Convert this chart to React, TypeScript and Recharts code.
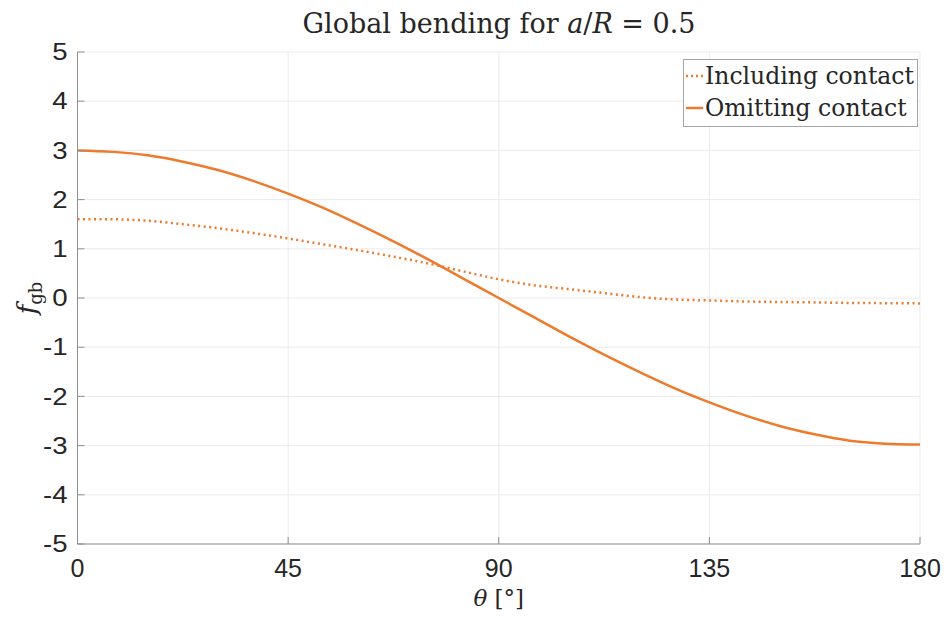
import React from 'react';
import { LineChart, Line, XAxis, YAxis, CartesianGrid } from 'recharts';

// values, every 7.5 degrees
const thetaDeg = [
    0, 7.5, 15, 22.5, 30, 37.5, 45, 52.5, 60, 67.5, 75, 82.5, 90,
    97.5, 105, 112.5, 120, 127.5, 135, 142.5, 150, 157.5, 165, 172.5, 180,
];
const includingContact = [
    1.6, 1.6, 1.57, 1.5, 1.42, 1.32, 1.21, 1.09, 0.97, 0.84, 0.7, 0.54, 0.38,
    0.26, 0.18, 0.1, 0.02, -0.03, -0.05, -0.07, -0.08, -0.09, -0.1, -0.105, -0.11,
];
const omittingContact = [
    3.0, 2.97, 2.9, 2.77, 2.6, 2.38, 2.12, 1.83, 1.5, 1.15, 0.78, 0.39, 0.0,
    -0.39, -0.78, -1.15, -1.5, -1.83, -2.12, -2.38, -2.6, -2.77, -2.9, -2.96, -2.98,
];
const xTicks = [0, 45, 90, 135, 180];
const yTicks = [-5, -4, -3, -2, -1, 0, 1, 2, 3, 4, 5];

const ORANGE = '#EE7A2C';
const TICK_FONT = '"Liberation Sans", Arial, sans-serif';
const SERIF = '"DejaVu Serif", serif';
const Y_MARGIN = 10;
const X_MARGIN = 7;

const chartData = thetaDeg.map((theta, i) => ({
    theta,
    including: includingContact[i],
    omitting: omittingContact[i],
}));

const YTick = (props: any) => {
    const { x, y, payload } = props;
    return (
        <g>
            <text
                transform={`translate(${x},${y}) scale(1.2,1)`}
                dy="0.36em"
                textAnchor="end"
                fontSize={23}
                fontFamily={TICK_FONT}
                fill="#262626"
            >
                {payload.value}
            </text>
            <line x1={x + Y_MARGIN} x2={x + Y_MARGIN + 7} y1={y} y2={y} stroke="#8f8f8f" />
        </g>
    );
};

const XTick = (props: any) => {
    const { x, y, payload } = props;
    return (
        <g>
            <text x={x} y={y + 26} textAnchor="middle" fontSize={25} fontFamily={TICK_FONT} fill="#262626">
                {payload.value}
            </text>
            <line x1={x} x2={x} y1={y - X_MARGIN} y2={y - X_MARGIN - 7} stroke="#8f8f8f" />
        </g>
    );
};

const XLabel = (props: any) => {
    const { viewBox } = props;
    const cx = viewBox.x + viewBox.width / 2;
    return (
        <text x={cx} y={viewBox.y + 62} textAnchor="middle" fontSize={23} fontFamily={SERIF} fill="#262626">
            <tspan fontStyle="italic">θ</tspan>
            <tspan> [°]</tspan>
        </text>
    );
};

const YLabel = (props: any) => {
    const { viewBox } = props;
    const cy = viewBox.y + viewBox.height / 2;
    const cx = 36;
    return (
        <text
            x={cx}
            y={cy}
            textAnchor="middle"
            fontSize={26}
            fontFamily={SERIF}
            fill="#262626"
            transform={`rotate(-90 ${cx} ${cy})`}
        >
            <tspan fontStyle="italic">f</tspan>
            <tspan fontSize={18} dy={6}>gb</tspan>
        </text>
    );
};

const LegendBox = () => (
    <div
        style={{
            position: 'absolute',
            left: 683,
            top: 59,
            width: 235,
            height: 68,
            border: '1px solid #a6a6a6',
            background: '#fff',
            fontFamily: SERIF,
            fontSize: 23.5,
            color: '#262626',
            boxSizing: 'border-box',
            whiteSpace: 'nowrap',
        }}
    >
        <div style={{ display: 'flex', alignItems: 'center', height: 32, marginTop: 0 }}>
            <svg width={19} height={10} style={{ marginLeft: 1 }}>
                <line x1={1} x2={18} y1={5} y2={5} stroke={ORANGE} strokeWidth={2.5} strokeDasharray="2 3" />
            </svg>
            <span style={{ marginLeft: 1 }}>Including contact</span>
        </div>
        <div style={{ display: 'flex', alignItems: 'center', height: 32 }}>
            <svg width={19} height={10} style={{ marginLeft: 1 }}>
                <line x1={1} x2={18} y1={5} y2={5} stroke={ORANGE} strokeWidth={2.5} />
            </svg>
            <span style={{ marginLeft: 1 }}>Omitting contact</span>
        </div>
    </div>
);

export default function App() {
    return (
        <div style={{ position: 'absolute', left: 0, top: 0, width: 950, height: 621, background: '#fff' }}>
            <div
                style={{
                    position: 'absolute',
                    left: 78,
                    width: 842,
                    top: 8,
                    textAlign: 'center',
                    fontFamily: SERIF,
                    fontSize: 27,
                    color: '#262626',
                    whiteSpace: 'nowrap',
                }}
            >
                Global bending for <i>a</i>/<i>R</i> = 0.5
            </div>
            <LineChart
                width={950}
                height={621}
                data={chartData}
                margin={{ top: 52, right: 30, left: 0, bottom: 0 }}
            >
                <CartesianGrid stroke="#ebebeb" strokeWidth={1} />
                <XAxis
                    dataKey="theta"
                    type="number"
                    domain={[0, 180]}
                    ticks={xTicks}
                    height={77}
                    tickSize={0}
                    tickMargin={X_MARGIN}
                    tickLine={false}
                    stroke="#8f8f8f"
                    tick={<XTick />}
                    label={<XLabel />}
                />
                <YAxis
                    type="number"
                    domain={[-5, 5]}
                    ticks={yTicks}
                    width={77.5}
                    tickSize={0}
                    tickMargin={Y_MARGIN}
                    tickLine={false}
                    stroke="#8f8f8f"
                    tick={<YTick />}
                    label={<YLabel />}
                    interval={0}
                />
                <Line
                    type="monotone"
                    dataKey="including"
                    stroke={ORANGE}
                    strokeWidth={2.5}
                    strokeDasharray="2 3.5"
                    dot={false}
                    isAnimationActive={false}
                />
                <Line
                    type="monotone"
                    dataKey="omitting"
                    stroke={ORANGE}
                    strokeWidth={2.5}
                    dot={false}
                    isAnimationActive={false}
                />
            </LineChart>
            <LegendBox />
        </div>
    );
}
